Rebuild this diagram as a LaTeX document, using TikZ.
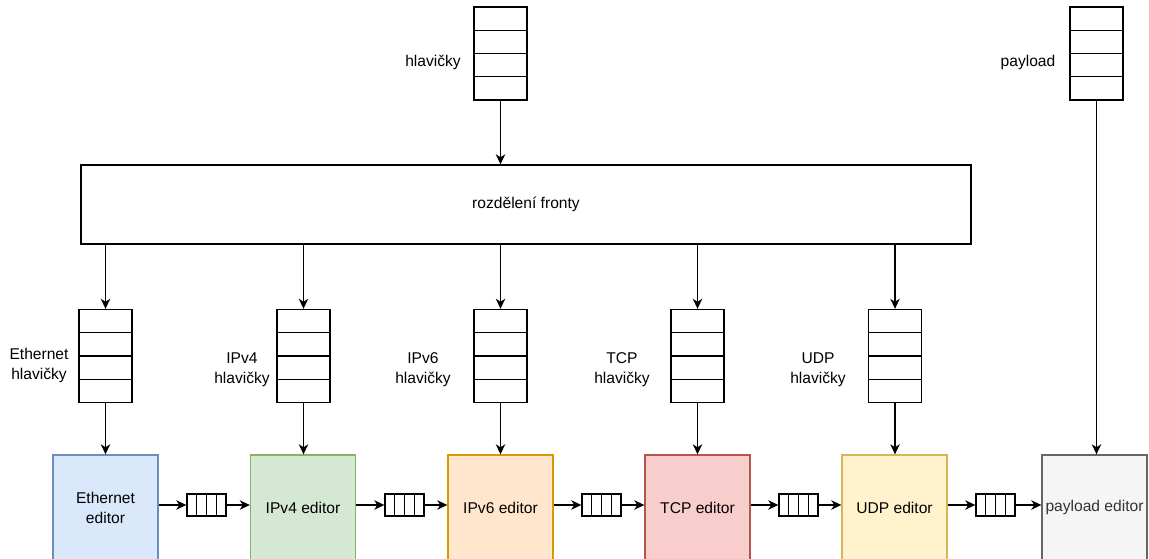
\documentclass[tikz,border=0pt]{standalone}
\usepackage{fontspec}
\setmainfont{Liberation Sans}
\usetikzlibrary{arrows.meta,calc}
\definecolor{ethF}{HTML}{DAE8FC}\definecolor{ethD}{HTML}{6C8EBF}
\definecolor{v4F}{HTML}{D5E8D4}\definecolor{v4D}{HTML}{82B366}
\definecolor{v6F}{HTML}{FFE6CC}\definecolor{v6D}{HTML}{D79B00}
\definecolor{tcpF}{HTML}{F8CECC}\definecolor{tcpD}{HTML}{B85450}
\definecolor{udpF}{HTML}{FFF2CC}\definecolor{udpD}{HTML}{D6B656}
\definecolor{plF}{HTML}{F5F5F5}\definecolor{plD}{HTML}{666666}
\definecolor{plT}{HTML}{333333}
\begin{document}
\begin{tikzpicture}[x=0.75pt,y=-0.75pt,line width=1pt,
  font=\fontsize{11.7}{15}\selectfont,
  vq/.style={draw,minimum width=39.75pt,minimum height=69.75pt,inner sep=0pt,
    path picture={\foreach \f in {0.25,0.5,0.75}
      \draw ($(path picture bounding box.north west)!\f!(path picture bounding box.south west)$) --
            ($(path picture bounding box.north east)!\f!(path picture bounding box.south east)$);}},
  hq/.style={draw,minimum width=29.25pt,minimum height=16.5pt,inner sep=0pt,
    path picture={\foreach \f in {0.25,0.5,0.75}
      \draw ($(path picture bounding box.north west)!\f!(path picture bounding box.north east)$) --
            ($(path picture bounding box.south west)!\f!(path picture bounding box.south east)$);}},
  ed/.style={draw,minimum width=78.75pt,minimum height=78.75pt,inner sep=0pt,align=center},
  lbl/.style={align=center,inner sep=0pt},
  arr/.style={-{Stealth[length=7.5pt,width=7pt,inset=2.2pt]}}]
\useasboundingbox (0,0) rectangle (1149,559);

% top queues
\node[vq] (hq) at (500.5,53.5) {};
\node[lbl] (hql) at (433,62) {hlavičky};
\node[vq] (pq) at (1096.5,53.5) {};
\node[lbl] (pql) at (1028,62) {payload};

% splitter
\node[draw,minimum width=667.5pt,minimum height=59.25pt,inner sep=0pt] (box) at (526,204.5) {rozdělení fronty};

% header queues
\node[vq] (q1) at (105.5,356) {};
\node[vq] (q2) at (303.5,356) {};
\node[vq] (q3) at (500.5,356) {};
\node[vq] (q4) at (697.5,356) {};
\node[vq] (q5) at (895,356) {};
\node[lbl] (l1) at (39,365) {Ethernet\\hlavičky};
\node[lbl] (l2) at (242,370) {IPv4\\hlavičky};
\node[lbl] (l3) at (423,370) {IPv6\\hlavičky};
\node[lbl] (l4) at (622,370) {TCP\\hlavičky};
\node[lbl] (l5) at (818,370) {UDP\\hlavičky};

% editors
\node[ed,fill=ethF,draw=ethD] (e1) at (105.5,507.5) {Ethernet\\editor};
\node[ed,fill=v4F,draw=v4D] (e2) at (303,507.5) {IPv4 editor};
\node[ed,fill=v6F,draw=v6D] (e3) at (500.5,507.5) {IPv6 editor};
\node[ed,fill=tcpF,draw=tcpD] (e4) at (697.5,507.5) {TCP editor};
\node[ed,fill=udpF,draw=udpD] (e5) at (894.5,507.5) {UDP editor};
\node[ed,fill=plF,draw=plD,text=plT] (e6) at (1094.5,507.5) {payload editor};

% small queues
\node[hq] (h1) at (206.5,505) {};
\node[hq] (h2) at (404.5,505) {};
\node[hq] (h3) at (601.5,505) {};
\node[hq] (h4) at (798.5,505) {};
\node[hq] (h5) at (995.5,505) {};

% connectors
\draw[arr] (hq.south) -- (hq.south |- box.north);
\foreach \i in {1,...,5}{
  \draw[arr] (box.south -| q\i.north) -- (q\i.north);
  \draw[arr] (q\i.south) -- (q\i.south |- e\i.north);
}
\draw[arr] (pq.south) -- (pq.south |- e6.north);
\foreach \i/\j in {1/2,2/3,3/4,4/5,5/6}{
  \draw[arr] (e\i.east |- h\i.west) -- (h\i.west);
  \draw[arr] (h\i.east) -- (h\i.east -| e\j.west);
}
\end{tikzpicture}
\end{document}
